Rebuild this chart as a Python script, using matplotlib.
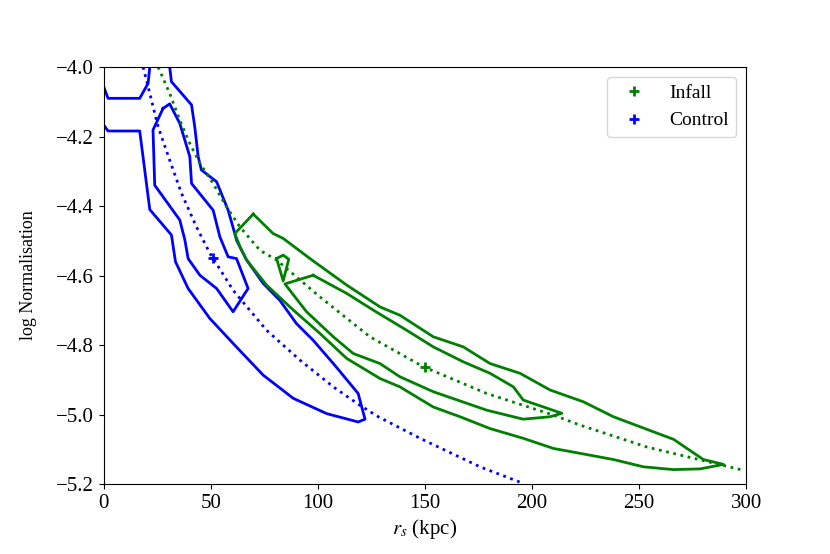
import matplotlib
matplotlib.use("Agg")
import matplotlib.pyplot as plt

plt.rcParams['font.family'] = ['Liberation Serif', 'DejaVu Serif']
plt.rcParams['mathtext.fontset'] = 'stix'
plt.rcParams['font.size'] = 14

# Best-fit relations (dotted)
infall_fit_x = [25.4, 30.8, 35.5, 40.2, 44.9, 51.1, 57.3, 63.6, 72.9, 80.7, 100.9, 124.3,
                149.2, 178.8, 209.9, 222.4, 253.6, 298.7]
infall_fit_y = [-4.0, -4.076, -4.153, -4.22, -4.277, -4.335, -4.402, -4.46, -4.527, -4.555,
                -4.661, -4.776, -4.862, -4.939, -5.001, -5.03, -5.093, -5.16]
control_fit_x = [18.4, 21.5, 25.4, 30.8, 36.3, 43.3, 49.5, 60.4, 76.0, 91.6, 107.2, 119.6,
                 128.2, 147.7, 175.7, 196.0]
control_fit_y = [-4.0, -4.076, -4.172, -4.268, -4.363, -4.46, -4.535, -4.642, -4.757, -4.843,
                 -4.92, -4.973, -5.006, -5.068, -5.15, -5.198]

# Best-fit points
infall_best = (150.0, -4.862)
control_best = (50.8, -4.55)

# Control contours
control_outer_x = [0.0, 2.0, 16.8, 21.5, 31.6, 33.5, 39.4, 49.5, 60.4, 74.4, 88.5, 104.1, 118.8,
                   122.0, 118.8, 107.9, 97.8, 90.0, 82.2, 74.4, 66.7, 62.0, 61.2, 58.1, 52.7,
                   45.6, 44.1, 42.5, 41.0, 31.6, 30.8]
control_outer_y = [-4.167, -4.184, -4.184, -4.41, -4.483, -4.56, -4.637, -4.723, -4.795, -4.886,
                   -4.953, -4.997, -5.021, -5.013, -4.939, -4.858, -4.786, -4.738, -4.671,
                   -4.622, -4.555, -4.498, -4.479, -4.412, -4.33, -4.296, -4.258, -4.172,
                   -4.109, -4.042, -4.0]
control_inner_a_x = [0.0, 2.0, 16.8, 20.7, 21.5]
control_inner_a_y = [-4.057, -4.09, -4.09, -4.047, -4.0]
control_inner_b_x = [27.7, 30.8, 35.5, 40.2, 41.0, 51.1, 54.2, 58.1, 62.0, 67.4, 60.4, 52.7,
                     44.9, 39.4, 37.9, 35.5, 23.8, 23.0, 27.7]
control_inner_b_y = [-4.119, -4.106, -4.162, -4.258, -4.335, -4.412, -4.488, -4.546, -4.551,
                     -4.637, -4.704, -4.637, -4.599, -4.551, -4.498, -4.44, -4.34, -4.181,
                     -4.119]

# Infall contours
infall_outer_x = [69.8, 61.2, 63.6, 66.7, 76.0, 88.5, 100.9, 113.4, 129.0, 138.3, 153.9, 166.4,
                  180.4, 195.9, 209.9, 238.0, 252.0, 266.1, 278.5, 289.4, 280.0, 266.1, 238.0,
                  224.0, 208.4, 194.4, 180.4, 167.9, 153.9, 138.3, 129.0, 113.4, 96.3, 83.8,
                  79.1, 69.8]
infall_outer_y = [-4.423, -4.479, -4.517, -4.555, -4.627, -4.699, -4.766, -4.838, -4.896, -4.92,
                  -4.978, -5.006, -5.04, -5.068, -5.097, -5.129, -5.15, -5.158, -5.156, -5.143,
                  -5.129, -5.071, -5.006, -4.963, -4.929, -4.881, -4.853, -4.805, -4.776,
                  -4.714, -4.69, -4.627, -4.551, -4.493, -4.479, -4.423]
infall_inner_x = [97.8, 113.4, 125.8, 141.4, 153.9, 167.9, 180.4, 191.3, 195.9, 213.9, 208.4,
                  195.9, 178.8, 153.9, 138.3, 129.0, 116.5, 107.2, 94.7, 84.6, 97.8]
infall_inner_y = [-4.599, -4.651, -4.699, -4.757, -4.805, -4.848, -4.881, -4.92, -4.958,
                  -4.996, -5.006, -5.013, -4.987, -4.934, -4.891, -4.853, -4.824, -4.776,
                  -4.704, -4.624, -4.599]
infall_island_x = [80.7, 83.8, 86.4, 83.8, 80.7]
infall_island_y = [-4.551, -4.541, -4.553, -4.615, -4.551]

GREEN = 'green'
BLUE = 'blue'

fig = plt.figure(figsize=(8.3, 5.54), dpi=100)
ax = fig.add_axes([0.125, 0.126, 0.774, 0.753])

lw = 2.0
ax.plot(control_outer_x, control_outer_y, color=BLUE, lw=lw)
ax.plot(control_inner_a_x, control_inner_a_y, color=BLUE, lw=lw)
ax.plot(control_inner_b_x, control_inner_b_y, color=BLUE, lw=lw)
ax.plot(infall_outer_x, infall_outer_y, color=GREEN, lw=lw)
ax.plot(infall_inner_x, infall_inner_y, color=GREEN, lw=lw)
ax.plot(infall_island_x, infall_island_y, color=GREEN, lw=lw)

ax.plot(infall_fit_x, infall_fit_y, color=GREEN, lw=2, ls=':')
ax.plot(control_fit_x, control_fit_y, color=BLUE, lw=2, ls=':')

ax.plot([infall_best[0]], [infall_best[1]], '+', color=GREEN, ms=7, mew=2, label='Infall')
ax.plot([control_best[0]], [control_best[1]], '+', color=BLUE, ms=7, mew=2, label='Control')

ax.set_xlim(0, 300)
ax.set_ylim(-5.2, -4.0)
ax.tick_params(labelsize=15)
ax.set_xlabel(r'$r_s$ (kpc)', fontsize=15, labelpad=3)
ax.set_ylabel('log Normalisation', fontsize=13, labelpad=14)
ax.legend(loc='upper right', fontsize=14)

fig.savefig('out.png', dpi=100)
